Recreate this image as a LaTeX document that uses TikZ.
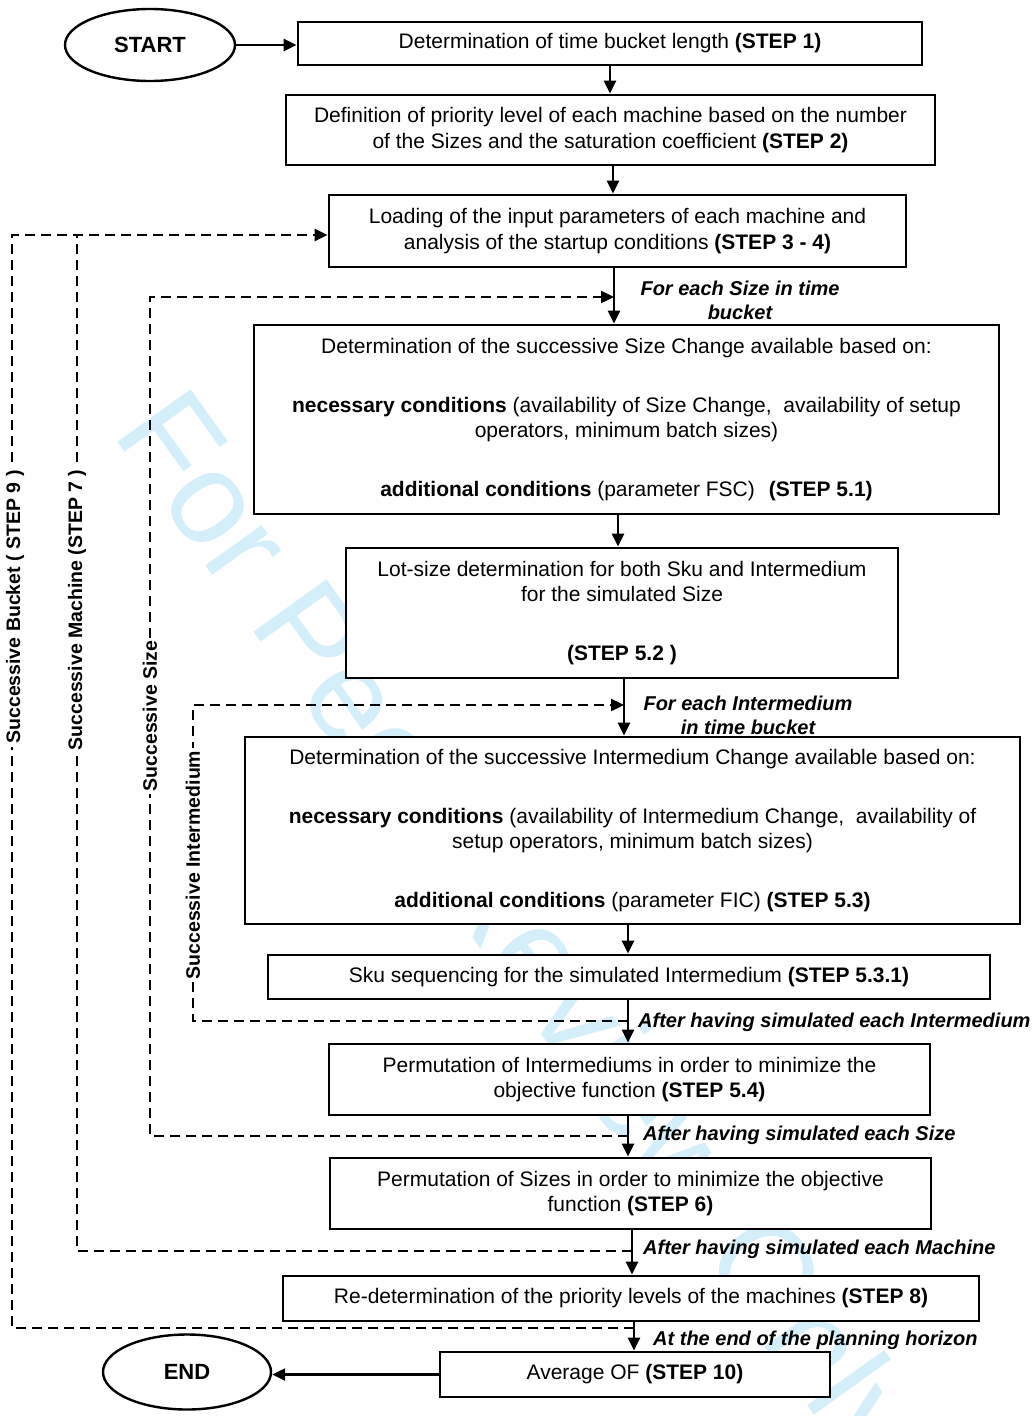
\documentclass[tikz,border=0pt]{standalone}
\usepackage{fontspec}
\setmainfont{Liberation Sans}
\usetikzlibrary{arrows.meta,shapes.geometric}
\definecolor{wm}{RGB}{212,238,250}
\begin{document}
\begin{tikzpicture}[x=1pt,y=-1pt,
  box/.style={draw, line width=2.8pt, fill=white, inner sep=0pt, align=center, font=\fontsize{21}{25.5}\selectfont},
  term/.style={draw, ellipse, line width=2.4pt, fill=white, inner sep=0pt, font=\bfseries\fontsize{22}{26}\selectfont},
  arr/.style={line width=2.4pt, -{Triangle[length=13pt,width=12pt]}},
  dsh/.style={line width=2.4pt, dash pattern=on 10pt off 6pt},
  dsharr/.style={dsh, -{Triangle[length=13pt,width=12pt]}},
  vlab/.style={rotate=90, fill=white, inner sep=3pt, font=\bfseries\fontsize{19.5}{23}\selectfont},
  ilab/.style={font=\bfseries\itshape\fontsize{20}{24}\selectfont, inner sep=0pt, align=center},
]
\useasboundingbox (0,0) rectangle (1032,1416);
\fill[white] (0,0) rectangle (1032,1416);
% watermark
\node[text=wm, font=\fontsize{131}{131}\selectfont, rotate=-54.4, inner sep=0pt] (wmark) at (512,935) {For Peer Review Only};

% terminals
\node[term, minimum width=170pt, minimum height=72pt] (start) at (150,45) {START};
\node[term, minimum width=168pt, minimum height=75pt] (end) at (187,1372) {END};

% boxes
\node[box, minimum width=624pt, minimum height=43pt] (b1) at (610,43.5) {Determination of time bucket length \textbf{(STEP 1)}};
\node[box, minimum width=649pt, minimum height=70pt] (b2) at (610.5,130) {Definition of priority level of each machine based on the number\\of the Sizes and the saturation coefficient \textbf{(STEP 2)}};
\node[box, minimum width=577pt, minimum height=72pt] (b3) at (617.5,231) {Loading of the input parameters of each machine and\\analysis of the startup conditions \textbf{(STEP 3 - 4)}};
\node[box, minimum width=745pt, minimum height=189pt] (b4) at (626.5,419.5) {Determination of the successive Size Change available based on:\\[33pt]\textbf{necessary conditions} (availability of Size Change,\ \ availability of setup\\operators, minimum batch sizes)\\[33pt]\textbf{additional conditions} (parameter FSC)\hspace{14pt}\textbf{(STEP 5.1)}};
\node[box, minimum width=552pt, minimum height=130pt] (b5) at (622,613) {Lot-size determination for both Sku and Intermedium\\for the simulated Size\\[33pt]\textbf{(STEP 5.2 )}};
\node[box, minimum width=775pt, minimum height=187pt] (b6) at (632.5,830.5) {Determination of the successive Intermedium Change available based on:\\[33pt]\textbf{necessary conditions} (availability of Intermedium Change,\ \ availability of\\setup operators, minimum batch sizes)\\[33pt]\textbf{additional conditions} (parameter FIC) \textbf{(STEP 5.3)}};
\node[box, minimum width=722pt, minimum height=44pt] (b7) at (629,977) {Sku sequencing for the simulated Intermedium \textbf{(STEP 5.3.1)}};
\node[box, minimum width=601pt, minimum height=71pt] (b8) at (629.5,1079.5) {Permutation of Intermediums in order to minimize the\\objective function \textbf{(STEP 5.4)}};
\node[box, minimum width=601pt, minimum height=71pt] (b9) at (630.5,1193.5) {Permutation of Sizes in order to minimize the objective\\function \textbf{(STEP 6)}};
\node[box, minimum width=696pt, minimum height=45pt] (b10) at (631,1298.5) {Re-determination of the priority levels of the machines \textbf{(STEP 8)}};
\node[box, minimum width=390pt, minimum height=45pt] (b11) at (635,1374.5) {Average OF \textbf{(STEP 10)}};

% arrow x positions
\coordinate (a12) at (610,0);
\coordinate (a23) at (613,0);
\coordinate (a34) at (614,0);
\coordinate (a45) at (618,0);
\coordinate (a56) at (624,0);
\coordinate (a67) at (628,0);
\coordinate (a78) at (628,0);
\coordinate (a89) at (628,0);
\coordinate (a910) at (632,0);
\coordinate (a1011) at (634,0);

% main solid arrows
\draw[arr] (start.east) -- (start.east -| b1.west);
\draw[arr] (b1.south -| a12) -- (b2.north -| a12);
\draw[arr] (b2.south -| a23) -- (b3.north -| a23);
\draw[arr] (b3.south -| a34) -- (b4.north -| a34);
\draw[arr] (b4.south -| a45) -- (b5.north -| a45);
\draw[arr] (b5.south -| a56) -- (b6.north -| a56);
\draw[arr] (b6.south -| a67) -- (b7.north -| a67);
\draw[arr] (b7.south -| a78) -- (b8.north -| a78);
\draw[arr] (b8.south -| a89) -- (b9.north -| a89);
\draw[arr] (b9.south -| a910) -- (b10.north -| a910);
\draw[arr] (b10.south -| a1011) -- (b11.north -| a1011);
\draw[arr] (b11.west) -- (b11.west -| end.east);

% loop points
\coordinate (iS) at (628,1021);  \coordinate (iE) at (624,705);  \coordinate (iC) at (193,0);
\coordinate (sS) at (628,1136);  \coordinate (sE) at (614,297);  \coordinate (sC) at (150,0);
\coordinate (mS) at (632,1251);  \coordinate (mE) at (77,235);   \coordinate (mC) at (77,0);
\coordinate (kS) at (634,1328);  \coordinate (kE) at (329,235);  \coordinate (kC) at (12,0);

% dashed loops
\draw[dsharr] (iS) -- (iS -| iC) -- (iE -| iC) -- (iE);
\draw[dsharr] (sS) -- (sS -| sC) -- (sE -| sC) -- (sE);
\draw[dsh] (mS) -- (mS -| mC) -- (mE);
\draw[dsharr] (kS) -- (kS -| kC) -- (kE -| kC) -- (kE -| b3.west);

% vertical labels
\node[vlab] (lint) at (193,865) {Successive Intermedium};
\node[vlab] (lsiz) at (150,716) {Successive Size};
\node[vlab] (lmac) at (77,610) {Successive Machine (STEP 7 )};
\node[vlab] (lbuc) at (15,607) {Successive Bucket ( STEP 9 )};

% italic labels
\node[ilab] (tsz) at (740,300) {For each Size in time\\bucket};
\node[ilab] (tim) at (748,715) {For each Intermedium\\in time bucket};
\node[ilab, anchor=west] (t1) at (638,1022) {After having simulated each Intermedium};
\node[ilab, anchor=west] (t2) at (643,1135) {After having simulated each Size};
\node[ilab, anchor=west] (t3) at (643,1249) {After having simulated each Machine};
\node[ilab, anchor=west] (t4) at (653,1340) {At the end of the planning horizon};
\end{tikzpicture}
\end{document}
